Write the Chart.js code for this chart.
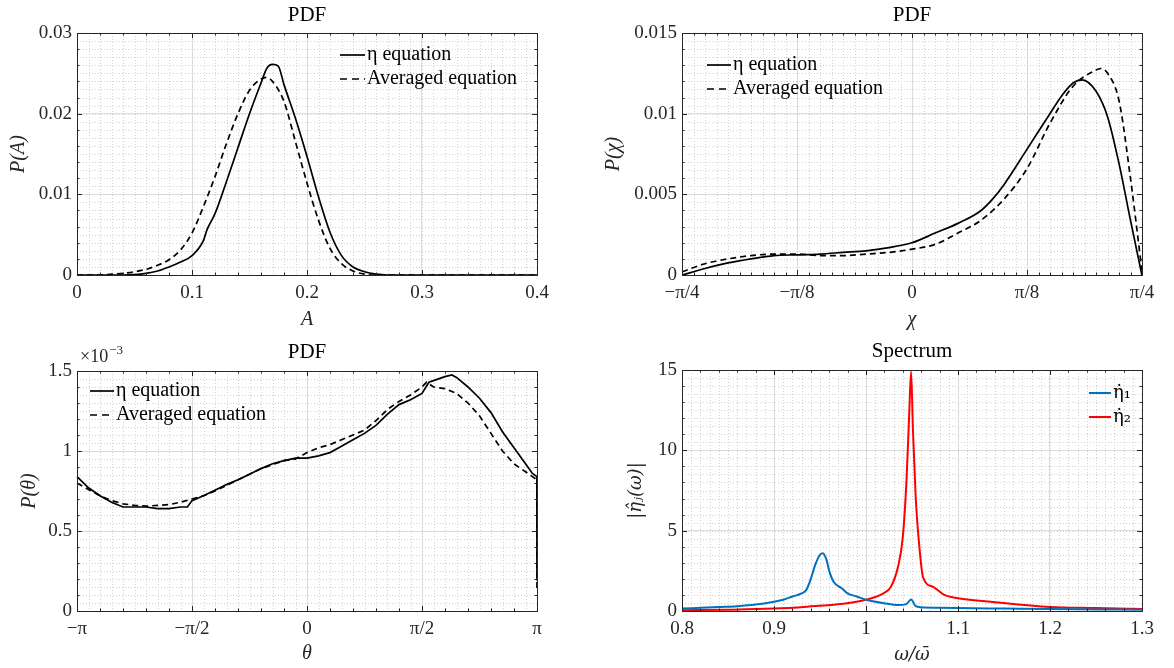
<!DOCTYPE html>
<html>
<head>
<meta charset="utf-8">
<script src="https://cdn.jsdelivr.net/npm/chart.js@4.4.0/dist/chart.umd.min.js"></script>
<style>
  body { margin: 0; background: #fff; width: 1174px; height: 668px; position: relative; overflow: hidden; }
  canvas { position: absolute; }
</style>
</head>
<body>
<canvas id="pdfA" width="587" height="334" style="left:0px;top:0px"></canvas>
<canvas id="pdfChi" width="587" height="334" style="left:587px;top:0px"></canvas>
<canvas id="pdfTheta" width="587" height="334" style="left:0px;top:334px"></canvas>
<canvas id="spectrum" width="587" height="334" style="left:587px;top:334px"></canvas>
<script>
// ---- data ----

// P(A)
const aEtaX = [0, 0.02, 0.04, 0.05, 0.06, 0.07, 0.08, 0.09, 0.1, 0.11, 0.113, 0.12, 0.13, 0.14, 0.15, 0.16, 0.165, 0.17, 0.175, 0.18, 0.19, 0.2, 0.21, 0.22, 0.23, 0.24, 0.25, 0.26, 0.27, 0.3, 0.35, 0.4];
const aEtaY = [0, 0, 0, 0.00005, 0.0002, 0.0005, 0.0010, 0.0016, 0.0024, 0.0043, 0.0056, 0.0076, 0.0116, 0.0158, 0.0200, 0.0238, 0.0256, 0.0261, 0.0259, 0.0236, 0.0194, 0.0147, 0.0097, 0.0053, 0.0024, 0.0010, 0.0004, 0.0001, 0, 0, 0, 0];
const aAvgX = [0, 0.02, 0.03, 0.04, 0.05, 0.06, 0.07, 0.08, 0.09, 0.1, 0.11, 0.12, 0.13, 0.14, 0.15, 0.16, 0.165, 0.17, 0.18, 0.19, 0.2, 0.21, 0.22, 0.23, 0.24, 0.25, 0.26, 0.3, 0.35, 0.4];
const aAvgY = [0, 0, 0.0001, 0.0002, 0.0004, 0.0007, 0.0012, 0.0019, 0.0031, 0.0052, 0.0085, 0.0122, 0.0163, 0.0200, 0.0229, 0.0243, 0.0245, 0.0240, 0.0215, 0.0165, 0.0114, 0.0068, 0.0033, 0.0014, 0.0005, 0.0001, 0, 0, 0, 0];
const aTicks = [0, 0.1, 0.2, 0.3, 0.4];
const aTickLabels = ['0', '0.1', '0.2', '0.3', '0.4'];
const pATicks = [0, 0.01, 0.02, 0.03];
const pATickLabels = ['0', '0.01', '0.02', '0.03'];

// P(chi)
const chiEtaX = [-0.785, -0.707, -0.628, -0.550, -0.471, -0.393, -0.314, -0.236, -0.157, -0.079, 0, 0.079, 0.157, 0.236, 0.275, 0.314, 0.393, 0.471, 0.511, 0.550, 0.581, 0.628, 0.668, 0.707, 0.746, 0.785];
const chiEtaY = [0, 0.0004, 0.00075, 0.0010, 0.0012, 0.00125, 0.0013, 0.0014, 0.0015, 0.0017, 0.0020, 0.0026, 0.0032, 0.0040, 0.0047, 0.0056, 0.0078, 0.0100, 0.0111, 0.0119, 0.0121, 0.0114, 0.0098, 0.0069, 0.0034, 0];
const chiAvgX = [-0.785, -0.707, -0.628, -0.550, -0.471, -0.393, -0.314, -0.236, -0.157, -0.079, 0, 0.079, 0.157, 0.236, 0.314, 0.393, 0.471, 0.550, 0.628, 0.644, 0.668, 0.707, 0.746, 0.785];
const chiAvgY = [0.0002, 0.0007, 0.0010, 0.0012, 0.0013, 0.0013, 0.0012, 0.0012, 0.0013, 0.0014, 0.0016, 0.0019, 0.0026, 0.0034, 0.0047, 0.0066, 0.0094, 0.0117, 0.0127, 0.0128, 0.0125, 0.0108, 0.0060, 0.0003];
const chiTicks = [-0.7854, -0.3927, 0, 0.3927, 0.7854];
const chiTickLabels = ['\u2212\u03c0/4', '\u2212\u03c0/8', '0', '\u03c0/8', '\u03c0/4'];
const pChiTicks = [0, 0.005, 0.01, 0.015];
const pChiTickLabels = ['0', '0.005', '0.01', '0.015'];

// P(theta), values in units of 1e-3
const thEtaX = [-3.141, -2.985, -2.827, -2.670, -2.513, -2.356, -2.199, -2.042, -1.885, -1.728, -1.634, -1.571, -1.414, -1.257, -1.100, -0.942, -0.785, -0.628, -0.471, -0.314, -0.157, 0, 0.157, 0.314, 0.471, 0.628, 0.785, 0.942, 1.100, 1.257, 1.414, 1.571, 1.665, 1.728, 1.885, 1.979, 2.042, 2.199, 2.356, 2.513, 2.670, 2.827, 2.985, 3.079, 3.140, 3.141];
const thEtaY = [0.84, 0.77, 0.72, 0.68, 0.65, 0.65, 0.65, 0.64, 0.64, 0.65, 0.65, 0.69, 0.72, 0.755, 0.79, 0.82, 0.855, 0.89, 0.92, 0.94, 0.955, 0.955, 0.97, 0.99, 1.03, 1.07, 1.11, 1.16, 1.23, 1.29, 1.32, 1.36, 1.43, 1.44, 1.465, 1.475, 1.46, 1.40, 1.33, 1.24, 1.12, 1.02, 0.92, 0.86, 0.84, 0.19];
const thAvgX = [-3.141, -2.985, -2.827, -2.670, -2.513, -2.356, -2.199, -2.042, -1.885, -1.728, -1.571, -1.414, -1.257, -1.100, -0.942, -0.785, -0.628, -0.471, -0.314, -0.157, 0, 0.157, 0.314, 0.471, 0.628, 0.785, 0.942, 1.100, 1.257, 1.414, 1.571, 1.634, 1.728, 1.885, 2.042, 2.199, 2.356, 2.513, 2.670, 2.827, 2.985, 3.140, 3.141];
const thAvgY = [0.80, 0.76, 0.72, 0.69, 0.67, 0.66, 0.655, 0.66, 0.665, 0.68, 0.70, 0.72, 0.75, 0.785, 0.82, 0.855, 0.89, 0.915, 0.94, 0.95, 0.99, 1.02, 1.04, 1.07, 1.10, 1.13, 1.19, 1.26, 1.31, 1.35, 1.40, 1.43, 1.40, 1.39, 1.36, 1.30, 1.22, 1.11, 1.00, 0.92, 0.87, 0.82, 0.12];
const thTicks = [-3.1416, -1.5708, 0, 1.5708, 3.1416];
const thTickLabels = ['\u2212\u03c0', '\u2212\u03c0/2', '0', '\u03c0/2', '\u03c0'];
const pThTicks = [0, 0.5, 1, 1.5];
const pThTickLabels = ['0', '0.5', '1', '1.5'];

// spectrum
const eta1X = [0.8, 0.82, 0.84, 0.86, 0.88, 0.9, 0.91, 0.92, 0.93, 0.935, 0.94, 0.945, 0.95, 0.953, 0.957, 0.96, 0.965, 0.974, 0.98, 0.99, 1.0, 1.02, 1.035, 1.044, 1.049, 1.054, 1.06, 1.08, 1.1, 1.15, 1.2, 1.25, 1.3];
const eta1Y = [0.15, 0.2, 0.25, 0.3, 0.4, 0.58, 0.7, 0.9, 1.1, 1.3, 2.0, 2.9, 3.5, 3.6, 3.2, 2.5, 1.8, 1.4, 1.1, 0.9, 0.7, 0.48, 0.37, 0.43, 0.72, 0.3, 0.23, 0.2, 0.18, 0.15, 0.12, 0.1, 0.08];
const eta2X = [0.8, 0.85, 0.9, 0.936, 0.975, 1.0, 1.019, 1.027, 1.035, 1.04, 1.044, 1.047, 1.049, 1.051, 1.054, 1.058, 1.062, 1.073, 1.085, 1.1, 1.14, 1.2, 1.25, 1.3];
const eta2Y = [0.05, 0.08, 0.15, 0.27, 0.45, 0.7, 1.1, 1.5, 2.8, 4.6, 8.1, 12.3, 14.9, 11.3, 7.1, 4.0, 2.1, 1.5, 1.0, 0.8, 0.55, 0.25, 0.18, 0.12];
const wTicks = [0.8, 0.9, 1.0, 1.1, 1.2, 1.3];
const wTickLabels = ['0.8', '0.9', '1', '1.1', '1.2', '1.3'];
const specTicks = [0, 5, 10, 15];
const specTickLabels = ['0', '5', '10', '15'];

// ---- drawing ----
const SERIF = '"Liberation Serif", "DejaVu Serif", serif';
const MATH = '"DejaVu Serif", "DejaVu Sans", serif';
const INK = '#262626';

function pts(xs, ys) { return xs.map((x, i) => ({ x: x, y: ys[i] })); }

function minorValues(scale, step) {
  const out = [];
  const n = Math.round((scale.max - scale.min) / step);
  for (let i = 1; i < n; i++) out.push(scale.min + i * step);
  return out;
}

const matlabAxes = {
  id: 'matlab',
  beforeDatasetsDraw(chart, args, o) {
    const { ctx, chartArea: a, scales: { x, y } } = chart;
    ctx.save();
    ctx.strokeStyle = '#d2d2d2';
    ctx.lineWidth = 1;
    ctx.setLineDash([1, 2]);
    ctx.beginPath();
    minorValues(x, o.minorX).forEach(v => {
      const p = Math.round(x.getPixelForValue(v)) + 0.5;
      ctx.moveTo(p, a.top); ctx.lineTo(p, a.bottom);
    });
    minorValues(y, o.minorY).forEach(v => {
      const p = Math.round(y.getPixelForValue(v)) + 0.5;
      ctx.moveTo(a.left, p); ctx.lineTo(a.right, p);
    });
    ctx.stroke();
    ctx.restore();
  },
  afterDatasetsDraw(chart, args, o) {
    const { ctx, chartArea: a, scales: { x, y } } = chart;
    ctx.save();
    // box + inward ticks
    ctx.strokeStyle = INK;
    ctx.lineWidth = 1;
    ctx.strokeRect(Math.round(a.left) + 0.5, Math.round(a.top) + 0.5, Math.round(a.right - a.left), Math.round(a.bottom - a.top));
    ctx.beginPath();
    const tick = (scale, v, len, horiz) => {
      const p = Math.round(scale.getPixelForValue(v)) + 0.5;
      if (horiz) {
        ctx.moveTo(p, a.bottom); ctx.lineTo(p, a.bottom - len);
        ctx.moveTo(p, a.top); ctx.lineTo(p, a.top + len);
      } else {
        ctx.moveTo(a.left, p); ctx.lineTo(a.left + len, p);
        ctx.moveTo(a.right, p); ctx.lineTo(a.right - len, p);
      }
    };
    x.ticks.forEach(t => tick(x, t.value, 5, true));
    y.ticks.forEach(t => tick(y, t.value, 5, false));
    minorValues(x, o.minorTickX).forEach(v => tick(x, v, 2.5, true));
    minorValues(y, o.minorTickY).forEach(v => tick(y, v, 2.5, false));
    ctx.stroke();

    // title
    ctx.fillStyle = '#000';
    ctx.font = '21px ' + SERIF;
    ctx.textAlign = 'center';
    ctx.textBaseline = 'middle';
    ctx.fillText(o.title, (a.left + a.right) / 2, a.top - o.titleGap);

    // exponent label
    if (o.exponent) {
      ctx.fillStyle = INK;
      ctx.textAlign = 'left';
      ctx.font = '18px ' + SERIF;
      ctx.fillText('\u00d710', a.left + 3, a.top - 14);
      const w = ctx.measureText('\u00d710').width;
      ctx.font = '13px ' + SERIF;
      ctx.fillText(o.exponent, a.left + 4 + w, a.top - 20);
    }

    // legend
    const L = o.legend;
    ctx.font = (L.size || 20) + 'px ' + (L.font || SERIF);
    ctx.textAlign = 'left';
    ctx.textBaseline = 'middle';
    chart.data.datasets.forEach((ds, i) => {
      const yy = L.y + i * L.dy;
      ctx.strokeStyle = ds.borderColor;
      ctx.lineWidth = ds.borderWidth;
      ctx.setLineDash(ds.borderDash ? [7, 5] : []);
      ctx.beginPath();
      ctx.moveTo(L.x, yy); ctx.lineTo(L.x + L.len, yy);
      ctx.stroke();
      ctx.setLineDash([]);
      ctx.fillStyle = '#000';
      ctx.fillText(ds.label, L.x + L.len + 2, yy);
    });
    ctx.restore();
  }
};

function axis(ticks, labels, min, max, fitSize, horiz, title, titlePad, titleFont) {
  return {
    type: 'linear',
    min: min,
    max: max,
    afterBuildTicks: s => { s.ticks = ticks.map(v => ({ value: v })); },
    afterFit: s => { if (horiz) s.height = fitSize; else s.width = fitSize; },
    ticks: {
      autoSkip: false,
      maxRotation: 0,
      minRotation: 0,
      padding: horiz ? 7 : 5,
      color: INK,
      font: { family: SERIF, size: 19 },
      callback: (v, i) => labels[i]
    },
    grid: { color: '#dedede', lineWidth: 1, drawTicks: false },
    border: { display: true, color: INK },
    title: {
      display: true,
      text: title,
      color: INK,
      font: { family: titleFont || SERIF, size: titleFont ? 18 : 20, style: 'italic' },
      padding: horiz ? { top: 0, bottom: titlePad } : { top: titlePad, bottom: 0 }
    }
  };
}

function line(label, xs, ys, color, width, dashed, straight) {
  return {
    label: label,
    data: pts(xs, ys),
    borderColor: color,
    borderWidth: width,
    borderDash: dashed ? [6, 4] : undefined,
    pointRadius: 0,
    showLine: true,
    tension: 0,
    cubicInterpolationMode: straight ? 'default' : 'monotone',
    clip: 3
  };
}

function makeChart(id, datasets, xAxis, yAxis, pad, mat) {
  return new Chart(document.getElementById(id), {
    type: 'scatter',
    data: { datasets: datasets },
    options: {
      responsive: false,
      animation: false,
      devicePixelRatio: 1,
      events: [],
      layout: { padding: pad },
      scales: { x: xAxis, y: yAxis },
      plugins: { legend: { display: false }, tooltip: { enabled: false }, matlab: mat }
    },
    plugins: [matlabAxes]
  });
}

makeChart('pdfA',
  [line('\u03b7 equation', aEtaX, aEtaY, '#000', 1.7, false),
   line('Averaged equation', aAvgX, aAvgY, '#000', 1.7, true)],
  axis(aTicks, aTickLabels, 0, 0.4, 59, true, 'A', 2),
  axis(pATicks, pATickLabels, 0, 0.03, 77, false, 'P(A)', 7),
  { top: 33, right: 50, left: 0, bottom: 0 },
  { title: 'PDF', titleGap: 18, minorX: 0.01, minorY: 0.001, minorTickX: 0.02, minorTickY: 0.002,
    legend: { x: 340, y: 55, dy: 24, len: 25 } });

makeChart('pdfChi',
  [line('\u03b7 equation', chiEtaX, chiEtaY, '#000', 1.7, false),
   line('Averaged equation', chiAvgX, chiAvgY, '#000', 1.7, true)],
  axis(chiTicks, chiTickLabels, -0.7854, 0.7854, 59, true, '\u03c7', 2),
  axis(pChiTicks, pChiTickLabels, 0, 0.015, 95, false, 'P(\u03c7)', 15),
  { top: 33, right: 32, left: 0, bottom: 0 },
  { title: 'PDF', titleGap: 18, minorX: 0.7854 / 20, minorY: 0.0005, minorTickX: 0.7854 / 20, minorTickY: 0.001,
    legend: { x: 120, y: 65, dy: 24, len: 24 } });

makeChart('pdfTheta',
  [line('\u03b7 equation', thEtaX, thEtaY, '#000', 1.7, false, true),
   line('Averaged equation', thAvgX, thAvgY, '#000', 1.7, true, true)],
  axis(thTicks, thTickLabels, -3.1416, 3.1416, 57, true, '\u03b8', 2),
  axis(pThTicks, pThTickLabels, 0, 1.5, 77, false, 'P(\u03b8)', 18),
  { top: 37, right: 50, left: 0, bottom: 0 },
  { title: 'PDF', titleGap: 19, exponent: '\u22123', minorX: 3.1416 / 20, minorY: 0.05, minorTickX: 3.1416 / 10, minorTickY: 0.1,
    legend: { x: 90, y: 57, dy: 24, len: 24 } });

makeChart('spectrum',
  [line('\u03b7\u0307\u2081', eta1X, eta1Y, '#0072BD', 2, false),
   line('\u03b7\u0307\u2082', eta2X, eta2Y, '#FF0000', 2, false)],
  axis(wTicks, wTickLabels, 0.8, 1.3, 57, true, '\u03c9/\u03c9\u0304', 2, MATH),
  axis(specTicks, specTickLabels, 0, 15, 95, false, '|\u03b7\u0302\u2c7c(\u03c9)|', 39, MATH),
  { top: 36, right: 32, left: 0, bottom: 0 },
  { title: 'Spectrum', titleGap: 19, minorX: 0.01, minorY: 0.5, minorTickX: 0.02, minorTickY: 1,
    legend: { x: 502, y: 59, dy: 24, len: 22, font: MATH, size: 18 } });
</script>
</body>
</html>
